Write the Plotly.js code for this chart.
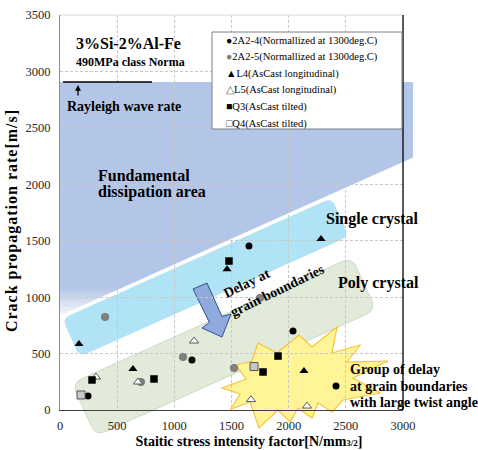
<!DOCTYPE html>
<html><head><meta charset="utf-8">
<script src="https://cdn.plot.ly/plotly-3.0.1.min.js"></script>
<style>html,body{margin:0;padding:0;background:#fff}#chart{width:478px;height:450px}</style>
</head><body><div id="chart"></div>
<script>
// ---------- data ----------
const seriesNames = ['2A2-4(Normallized at 1300deg.C)', '2A2-5(Normallized at 1300deg.C)',
  'L4(AsCast longitudinal)', 'L5(AsCast longitudinal)', 'Q3(AsCast tilted)', 'Q4(AsCast tilted)'];
const k_2A2_4 = [245, 1154, 1653, 2038, 2414];
const v_2A2_4 = [124, 443, 1453, 700, 213];
const k_2A2_5 = [394, 708, 1076, 1522, 1749];
const v_2A2_5 = [824, 248, 470, 372, 993];
const k_L4 = [166, 638, 1461, 2134, 2283];
const v_L4 = [585, 363, 1248, 346, 1515];
const k_L5 = [315, 682, 1172, 1670, 2160];
const v_L5 = [292, 248, 611, 92, 35];
const k_Q3 = [280, 822, 1478, 1776, 1907];
const v_Q3 = [266, 275, 1320, 337, 478];
const k_Q4 = [184, 1697];
const v_Q4 = [133, 385];
const xTicks = [0, 500, 1000, 1500, 2000, 2500, 3000];
const yTicks = [0, 500, 1000, 1500, 2000, 2500, 3000, 3500];
const legendLines = [
  '●2A2-4(Normallized at 1300deg.C)',
  '<span style="color:#808080">●</span>2A2-5(Normallized at 1300deg.C)',
  '▲L4(AsCast longitudinal)',
  '<span style="color:#666">△</span>L5(AsCast longitudinal)',
  '■Q3(AsCast tilted)',
  '<span style="color:#555">□</span>Q4(AsCast tilted)'
];

// ---------- helpers for decorations (pixel -> paper) ----------
const SERIF = 'Liberation Serif, Times New Roman, serif';
const M = {l: 60, r: 75, t: 15, b: 40};
const PW = 478 - M.l - M.r, PH = 450 - M.t - M.b;
const X0 = M.l, Y0 = 450 - M.b;
function toPaper(p) { return [(p[0] - X0) / PW, (Y0 - p[1]) / PH]; }
function fmt(p) { const q = toPaper(p); return q[0].toFixed(5) + ',' + q[1].toFixed(5); }
function polyPath(pts) { return pts.map((p, i) => (i ? 'L' : 'M') + fmt(p)).join('') + 'Z'; }
function toward(c, t, r) { const dx = t[0] - c[0], dy = t[1] - c[1], L = Math.hypot(dx, dy); return [c[0] + dx / L * r, c[1] + dy / L * r]; }
function roundedPath(pts, r) {
  const n = pts.length; let d = '';
  for (let i = 0; i < n; i++) {
    const c = pts[i], p = pts[(i - 1 + n) % n], nx = pts[(i + 1) % n];
    const a = toward(c, p, r), b = toward(c, nx, r);
    d += (i ? 'L' : 'M') + fmt(a) + 'Q' + fmt(c) + ' ' + fmt(b);
  }
  return d + 'Z';
}
function band(tl, angDeg, len, wid) {
  const t = angDeg * Math.PI / 180, u = [Math.cos(t), -Math.sin(t)], v = [Math.sin(t), Math.cos(t)];
  const tr = [tl[0] + u[0] * len, tl[1] + u[1] * len];
  return [tl, tr, [tr[0] + v[0] * wid, tr[1] + v[1] * wid], [tl[0] + v[0] * wid, tl[1] + v[1] * wid]];
}
function clipHalf(poly, inside, yc) {
  const res = [];
  for (let i = 0; i < poly.length; i++) {
    const a = poly[i], b = poly[(i + 1) % poly.length], ia = inside(a), ib = inside(b);
    if (ia) res.push(a);
    if (ia !== ib) { const t = (yc - a[1]) / (b[1] - a[1]); res.push([a[0] + t * (b[0] - a[0]), yc]); }
  }
  return res;
}
function clipY(poly, y1, y2) { return clipHalf(clipHalf(poly, p => p[1] >= y1, y1), p => p[1] <= y2, y2); }

const shapes = [];
// fundamental dissipation area (blue, fading at bottom)
const blueQuad = [[60, 82], [413, 82], [413, 157.5], [60, 315.5]];
const blue = [180, 198, 231];
const fadeTop = 288, fadeBot = 316, nSlab = 9;
shapes.push({type: 'path', xref: 'paper', yref: 'paper', layer: 'below', path: polyPath(clipY(blueQuad, 0, fadeTop + 0.5)),
  fillcolor: 'rgb(' + blue.join(',') + ')', line: {width: 0}});
for (let k = 0; k < nSlab; k++) {
  const ya = fadeTop + (fadeBot - fadeTop) * k / nSlab, yb = fadeTop + (fadeBot - fadeTop) * (k + 1) / nSlab + 0.6;
  const f = 0.9 * (k + 0.5) / nSlab;
  const c = blue.map(v => Math.round(v + (255 - v) * f));
  const pts = clipY(blueQuad, ya, yb);
  if (pts.length > 2) shapes.push({type: 'path', xref: 'paper', yref: 'paper', layer: 'below', path: polyPath(pts),
    fillcolor: 'rgb(' + c.join(',') + ')', line: {width: 0}});
}
// poly crystal band
shapes.push({type: 'path', xref: 'paper', yref: 'paper', layer: 'below',
  path: roundedPath(band([72, 383], 24.2, 307, 58), 11), fillcolor: 'rgb(226,234,218)', line: {color: 'rgb(205,218,192)', width: 1}});
// single crystal band
shapes.push({type: 'path', xref: 'paper', yref: 'paper', layer: 'below',
  path: roundedPath(band([61, 318], 24.1, 297, 44), 9), fillcolor: 'rgb(176,227,245)', line: {color: '#ffffff', width: 2}});
// star burst
const star = [[258, 343], [277, 353], [299, 335], [312, 347], [337, 327], [332, 353], [360, 345], [347, 362], [388, 361],
  [353, 378], [380, 393], [343, 400], [332, 412], [318, 403], [312, 418], [298, 408], [290, 422], [278, 410], [259, 428],
  [250, 402], [231, 409], [240, 394], [222, 388], [246, 379], [236, 365], [252, 361]];
shapes.push({type: 'path', xref: 'paper', yref: 'paper', layer: 'below', path: polyPath(star),
  fillcolor: 'rgb(255,244,150)', line: {color: 'rgb(246,196,64)', width: 1.2}});
// blue arrow
const arrow = [[193, 289], [207, 283], [222, 316.5], [231, 314], [222, 337], [202, 328], [209.5, 322.5]];
shapes.push({type: 'path', xref: 'paper', yref: 'paper', layer: 'below', path: polyPath(arrow),
  fillcolor: 'rgb(143,170,220)', line: {color: 'rgb(47,82,143)', width: 1}});
// frame lines
shapes.push({type: 'line', xref: 'paper', yref: 'paper', layer: 'above', x0: 0, x1: 1, y0: 1, y1: 1, line: {color: '#d9d9d9', width: 1}});
shapes.push({type: 'line', xref: 'paper', yref: 'paper', layer: 'above', x0: 1, x1: 1, y0: 0, y1: 1, line: {color: '#000', width: 1.3}});
// Rayleigh line
{ const a = toPaper([63, 82]), b = toPaper([152, 82]);
  shapes.push({type: 'line', xref: 'paper', yref: 'paper', layer: 'above', x0: a[0], x1: b[0], y0: a[1], y1: b[1], line: {color: '#000', width: 1.6}}); }
// legend box
{ const a = toPaper([212, 32]), b = toPaper([402, 129]);
  shapes.push({type: 'rect', xref: 'paper', yref: 'paper', layer: 'above', x0: a[0], x1: b[0], y0: b[1], y1: a[1],
    fillcolor: '#fff', line: {color: '#7f7f7f', width: 1}}); }

// ---------- annotations ----------
const ann = [];
function txt(text, p, size, opt) {
  const q = toPaper(p);
  ann.push(Object.assign({xref: 'paper', yref: 'paper', x: q[0], y: q[1], text: text, showarrow: false,
    xanchor: 'left', yanchor: 'middle', font: {family: SERIF, size: size, color: '#000'}}, opt || {}));
}
txt('<b>3%Si-2%Al-Fe</b>', [74, 44], 16);
txt('<b>490MPa class Norma</b>', [74, 62], 12);
txt('<b>Rayleigh wave rate</b>', [65, 106], 14);
txt('<b>Fundamental</b>', [96, 175], 16);
txt('<b>dissipation area</b>', [96, 192], 16);
txt('<b>Single crystal</b>', [324, 219], 16);
txt('<b>Poly crystal</b>', [336, 283], 16);
txt('<b>Delay at</b>', [246.5, 283.5], 14, {xanchor: 'center', textangle: -26});
txt('<b>grain boundaries</b>', [277.5, 290.5], 14, {xanchor: 'center', textangle: -26});
txt('<b>Group of delay</b>', [348, 369], 14);
txt('<b>at grain boundaries</b>', [348, 386], 14);
txt('<b>with large twist angle</b>', [348, 402], 14);
legendLines.forEach((t, i) => txt(t, [224, 40.5 + 16.6 * i], 10.5));
{ const q = toPaper([78, 85]);
  ann.push({xref: 'paper', yref: 'paper', x: q[0], y: q[1], ax: 0, ay: 12, text: '', showarrow: true,
    arrowhead: 2, arrowsize: 0.9, arrowwidth: 1.3, arrowcolor: '#000'}); }

// ---------- traces ----------
const traces = [
  {x: k_2A2_4, y: v_2A2_4, name: seriesNames[0], marker: {symbol: 'circle', size: 7, color: '#000'}},
  {x: k_2A2_5, y: v_2A2_5, name: seriesNames[1], marker: {symbol: 'circle', size: 7.5, color: '#808080', line: {color: '#6a6a6a', width: 0.6}}},
  {x: k_L4, y: v_L4, name: seriesNames[2], marker: {symbol: 'triangle-up', size: 8, color: '#000'}},
  {x: k_L5, y: v_L5, name: seriesNames[3], marker: {symbol: 'triangle-up', size: 8, color: '#fff', line: {color: '#5a5a5a', width: 1}}},
  {x: k_Q3, y: v_Q3, name: seriesNames[4], marker: {symbol: 'square', size: 7.5, color: '#000'}},
  {x: k_Q4, y: v_Q4, name: seriesNames[5], marker: {symbol: 'square', size: 8, color: '#c8c8c8', line: {color: '#555', width: 1}}}
].map(t => Object.assign({type: 'scatter', mode: 'markers', cliponaxis: false}, t));

const NB = '\u00a0';
const layout = {
  width: 478, height: 450, autosize: false, showlegend: false,
  margin: {l: M.l, r: M.r, t: M.t, b: M.b, pad: 0},
  paper_bgcolor: '#fff', plot_bgcolor: 'rgba(0,0,0,0)',
  font: {family: SERIF, size: 12.5, color: '#262626'},
  xaxis: {range: [0, 3000], tickmode: 'array', tickvals: xTicks, ticktext: xTicks.map(String),
    showgrid: true, gridcolor: '#c8c8c8', griddash: '3px,2px', gridwidth: 1, zeroline: false,
    showline: true, linecolor: '#404040', linewidth: 1, ticks: '', ticklabelstandoff: 4,
    tickfont: {family: SERIF, size: 12.5, color: '#262626'},
    title: {text: '<b>' + NB.repeat(10) + 'Staitic stress intensity factor[N/mm<span style="font-size:9px">3/2</span>]</b>',
      font: {family: SERIF, size: 14, color: '#000'}, standoff: 4}},
  yaxis: {range: [0, 3500], tickmode: 'array', tickvals: yTicks, ticktext: yTicks.map(String),
    showgrid: true, gridcolor: '#c8c8c8', griddash: '3px,2px', gridwidth: 1, zeroline: false,
    showline: true, linecolor: '#8c8c8c', linewidth: 1, ticks: '', ticklabelstandoff: 6,
    tickfont: {family: SERIF, size: 12.5, color: '#262626'},
    title: {text: '<b><span style="letter-spacing:1px">Crack propagation rate[m/s]</span>' + NB.repeat(4) + '</b>',
      font: {family: SERIF, size: 16, color: '#000'}, standoff: 3}},
  shapes: shapes, annotations: ann
};
Plotly.newPlot('chart', traces, layout, {displayModeBar: false, staticPlot: true});
</script></body></html>
